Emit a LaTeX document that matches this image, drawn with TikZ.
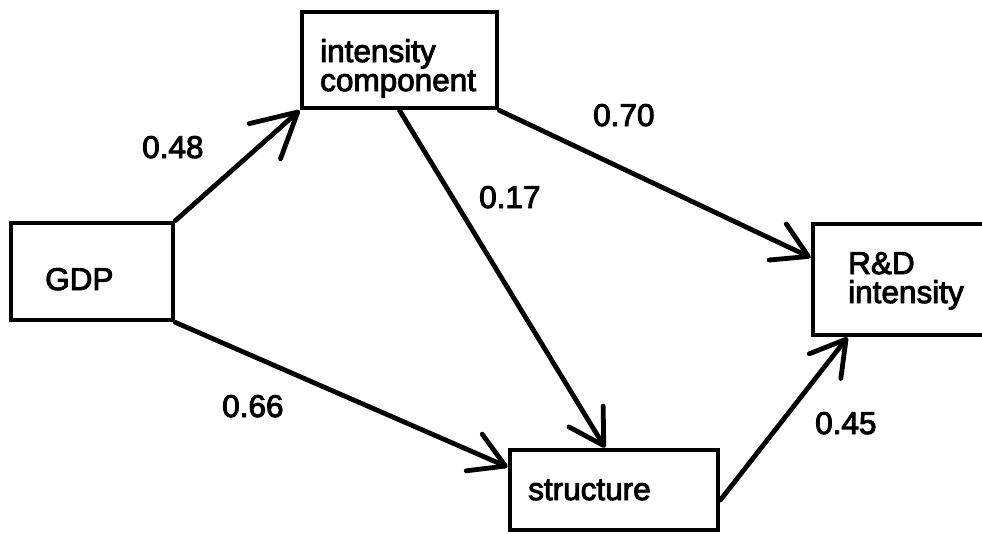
\documentclass[tikz,border=0pt]{standalone}
\usepackage{fontspec}
\setmainfont{Liberation Sans}[BoldFont=Liberation Sans, BoldFeatures={FakeBold=3}]
\usetikzlibrary{arrows.meta}

\begin{document}
\begin{tikzpicture}[x=1pt,y=-1pt,
  box/.style={draw, line width=4.8pt, inner sep=0pt},
  txt/.style={anchor=base west, inner sep=0pt, font=\fontsize{31.5}{29}\selectfont\bfseries},
  link/.style={line width=4.8pt, line cap=round,
    -{Straight Barb[length=34pt,width=40pt,round]}},
  biglink/.style={link, -{Straight Barb[length=44pt,width=47pt,round]}},
]
\useasboundingbox (0,0) rectangle (982,533);
\clip (0,0) rectangle (982,533);

% boxes
\node[box, minimum width=195pt, minimum height=96pt]  (ic)  at (399.5,60)   {};
\node[box, minimum width=162pt, minimum height=97pt]  (gdp) at (92,271.5)   {};
\node[box, minimum width=208pt, minimum height=80pt]  (st)  at (614,490)    {};
\node[box, minimum width=197pt, minimum height=111pt] (rd)  at (911.5,279.5) {};

% box texts
\node[txt] (ict1) at (320,62)  {intensity};
\node[txt] (ict2) at (320,91)  {component};
\node[txt] (gdpt) at (45,290)  {GDP};
\node[txt] (stt)  at (528,500) {structure};
\node[txt] (rdt1) at (848,274) {R\&D};
\node[txt] (rdt2) at (848,303) {intensity};

% paths
\draw[biglink] (gdp.north east) -- (ic.south west);
\draw[link] (gdp.south east) -- ([yshift=23pt]st.west);
\draw[link] (ic.south) -- ([xshift=-9pt]st.north);
\draw[link] (ic.south east) -- ([yshift=22pt]rd.west);
\draw[link] ([yshift=-10pt]st.east) -- ([xshift=-64pt]rd.south);

% path coefficients
\node[txt] (c48) at (142,158) {0.48};
\node[txt] (c70) at (593,126) {0.70};
\node[txt] (c17) at (479,208) {0.17};
\node[txt] (c66) at (222,417) {0.66};
\node[txt] (c45) at (815,434) {0.45};
\end{tikzpicture}
\end{document}
